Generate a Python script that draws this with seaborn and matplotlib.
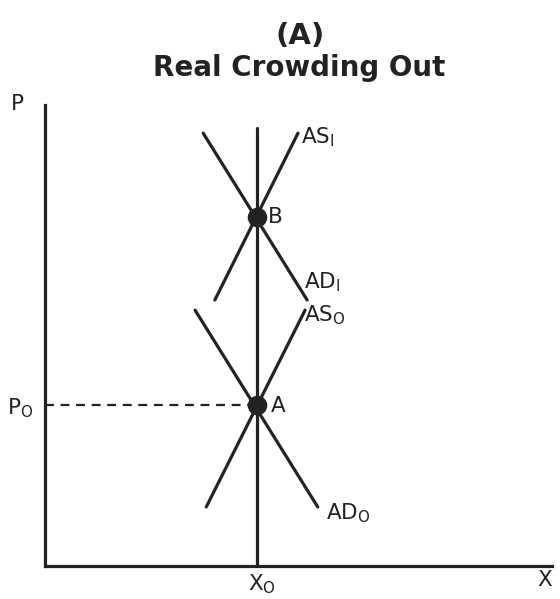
import numpy as np
import pandas as pd
import seaborn as sns
import matplotlib.pyplot as plt

sns.set_theme(style="white")
plt.rcParams["font.family"] = ["DejaVu Sans"]
plt.rcParams["mathtext.default"] = "regular"

INK = "#222222"

# 曲线端点（数据坐标，x 在 0~10，P 在 0~10）
curve_names = ["AS0", "AD0", "AS1", "AD1"]
curve_x = [[3.18, 5.13], [2.96, 5.38], [3.35, 4.99], [3.12, 5.17]]
curve_p = [[1.28, 5.55], [5.55, 1.28], [5.77, 9.39], [9.39, 5.77]]

x0 = 4.18
p_top = 9.50
eq_names = ["A", "B"]
eq_x = [4.18, 4.18]
eq_p = [3.49, 7.57]

rows = []
for name, xs, ps in zip(curve_names, curve_x, curve_p):
    for xv, pv in zip(xs, ps):
        rows.append({"curve": name, "x": xv, "p": pv})
# X0 处的竖线也当成一条曲线画
rows.append({"curve": "X0", "x": x0, "p": 0.0})
rows.append({"curve": "X0", "x": x0, "p": p_top})
df = pd.DataFrame(rows)
pts = pd.DataFrame({"name": eq_names, "x": eq_x, "p": eq_p})

fig = plt.figure(figsize=(5.6, 5.99), dpi=100)
ax = fig.add_axes([45 / 560, 33 / 599, 507 / 560, 461 / 599])

sns.lineplot(data=df, x="x", y="p", units="curve", estimator=None,
             color=INK, lw=2.3, sort=False, ax=ax)
# P0 虚线
ax.plot([0, x0], [eq_p[0], eq_p[0]], color=INK, lw=1.6, dashes=(4, 3))
sns.scatterplot(data=pts, x="x", y="p", s=170, color=INK, edgecolor=INK,
                zorder=5, ax=ax)

ax.set_xlim(0, 10)
ax.set_ylim(0, 10)
ax.set_xticks([])
ax.set_yticks([])
ax.set_xlabel("")
ax.set_ylabel("")
for side in ["top", "right"]:
    ax.spines[side].set_visible(False)
for side in ["left", "bottom"]:
    ax.spines[side].set_color(INK)
    ax.spines[side].set_linewidth(2.3)

lab = dict(color=INK, fontsize=15.5, va="center", ha="left", clip_on=False)
ax.text(5.05, 9.30, "$AS_I$", **lab)
ax.text(4.40, 7.57, "B", **lab)
ax.text(5.10, 6.15, "$AD_I$", **lab)
ax.text(5.10, 5.45, "$AS_O$", **lab)
ax.text(4.45, 3.47, "A", **lab)
ax.text(5.55, 1.15, "$AD_O$", **lab)

fig.text(17 / 560, 1 - 104 / 599, "P", color=INK, fontsize=15.5, ha="center", va="center")
fig.text(20 / 560, 1 - 408 / 599, "$P_O$", color=INK, fontsize=15.5, ha="center", va="center")
fig.text(262 / 560, 1 - 584 / 599, "$X_O$", color=INK, fontsize=15.5, ha="center", va="center")
fig.text(545 / 560, 1 - 580 / 599, "X", color=INK, fontsize=15.5, ha="center", va="center")

fig.text(300 / 560, 1 - 36 / 599, "(A)", color=INK, fontsize=21,
         fontweight="bold", ha="center", va="center")
fig.text(299 / 560, 1 - 68 / 599, "Real Crowding Out", color=INK, fontsize=20,
         fontweight="bold", ha="center", va="center")

fig.savefig("out.png", dpi=100, facecolor="white")
